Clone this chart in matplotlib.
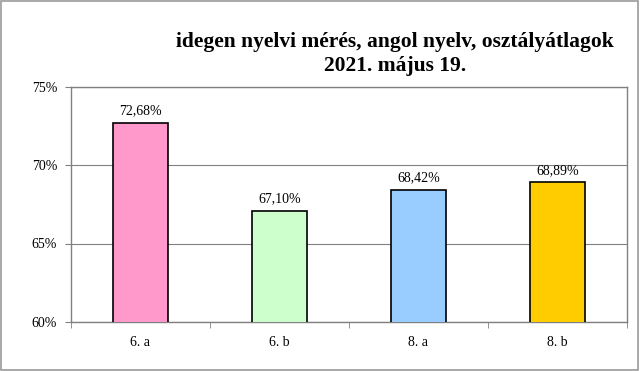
import numpy as np
import matplotlib.pyplot as plt
from matplotlib.ticker import FuncFormatter
from matplotlib.patches import Rectangle

classes = ["6. a", "6. b", "8. a", "8. b"]
averages = [72.68, 67.10, 68.42, 68.89]
colors = ["#FF99CC", "#CCFFCC", "#99CCFF", "#FFCC00"]
yticks = [60, 65, 70, 75]

plt.rcParams['font.family'] = ['Liberation Serif', 'DejaVu Serif']

fig = plt.figure(figsize=(6.4, 3.71), dpi=100)
ax = fig.add_axes([71/640, 1 - 322/371, (627-71)/640, (322-86.5)/371])

x = np.arange(len(classes))
ax.bar(x, averages, width=0.4, bottom=0, color=colors, edgecolor="black", linewidth=1.2, zorder=3)
for xi, v in zip(x, averages):
    ax.text(xi, v + 0.35, f"{v:.2f}%".replace(".", ","), ha="center", va="bottom", fontsize=10)

ax.set_xlim(-0.5, len(classes) - 0.5)
ax.set_ylim(60, 75)
ax.set_yticks(yticks)
ax.yaxis.set_major_formatter(FuncFormatter(lambda v, p: f"{v:.0f}%"))
ax.set_xticks(x)
ax.set_xticklabels(classes)
ax.set_xticks(np.arange(-0.5, len(classes)), minor=True)
ax.tick_params(axis="x", which="major", length=0, pad=10, labelsize=10)
ax.tick_params(axis="x", which="minor", length=4, color="#808080", direction="out")
ax.tick_params(axis="y", length=4, color="#808080", labelsize=10, pad=6)
ax.grid(axis="y", color="#808080", linewidth=0.8, zorder=0)
for s in ax.spines.values():
    s.set_color("#808080")
    s.set_linewidth(1.0)

fig.text(395/640, 1 - 54/371, "idegen nyelvi mérés, angol nyelv, osztályátlagok\n2021. május 19.",
         ha="center", va="center", fontsize=15.5, fontweight="bold", linespacing=1.3)

fig.patches.append(Rectangle((0.002, 0.003), 0.995, 0.993, transform=fig.transFigure,
                             fill=False, edgecolor="#999999", linewidth=1.2))

plt.savefig("out.png")
